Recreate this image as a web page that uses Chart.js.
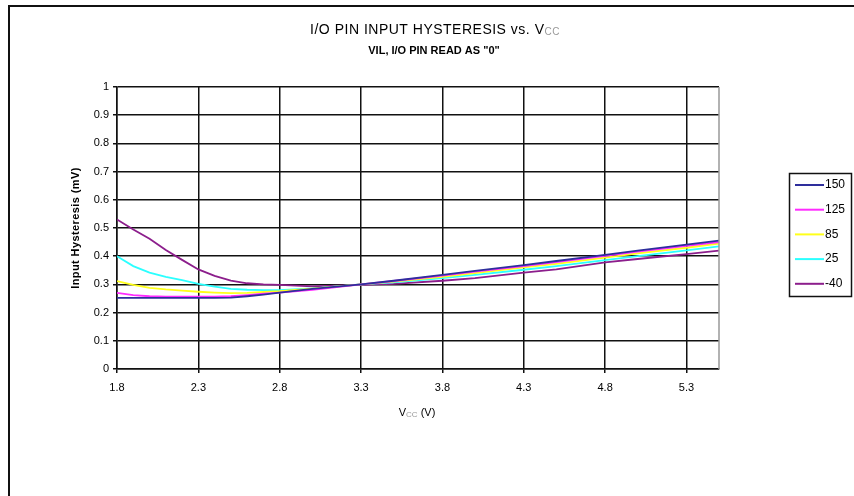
<!DOCTYPE html>
<html>
<head>
<meta charset="utf-8">
<script src="https://cdn.jsdelivr.net/npm/chart.js@4.4.1/dist/chart.umd.min.js"></script>
<style>
  body { margin: 0; background: #fff; }
  #grafico { display: block; }
</style>
</head>
<body>
<canvas id="grafico" width="854" height="496"></canvas>
<script>
// valores (Vcc en V, histeresis)
const vcc = [1.8, 1.9, 2.0, 2.1, 2.2, 2.3, 2.4, 2.5, 2.6, 2.7, 2.8, 3.0, 3.3, 3.5, 3.8, 4.0, 4.3, 4.5, 4.8, 5.0, 5.3, 5.5];
const temps = ['150', '125', '85', '25', '-40'];
const serie150 = [0.252, 0.252, 0.252, 0.252, 0.252, 0.252, 0.252, 0.253, 0.258, 0.264, 0.271, 0.284, 0.300, 0.313, 0.334, 0.348, 0.368, 0.383, 0.405, 0.420, 0.441, 0.455];
const serie125 = [0.270, 0.262, 0.258, 0.257, 0.257, 0.257, 0.257, 0.258, 0.262, 0.267, 0.271, 0.281, 0.300, 0.312, 0.331, 0.345, 0.365, 0.379, 0.401, 0.416, 0.437, 0.450];
const serie85 = [0.312, 0.298, 0.288, 0.282, 0.278, 0.274, 0.271, 0.269, 0.270, 0.273, 0.276, 0.285, 0.300, 0.310, 0.327, 0.340, 0.360, 0.373, 0.395, 0.410, 0.430, 0.445];
const serie25 = [0.400, 0.365, 0.342, 0.327, 0.315, 0.302, 0.292, 0.284, 0.281, 0.280, 0.280, 0.286, 0.300, 0.307, 0.322, 0.334, 0.352, 0.365, 0.386, 0.400, 0.421, 0.435];
const serieM40 = [0.530, 0.495, 0.462, 0.422, 0.387, 0.353, 0.330, 0.313, 0.304, 0.300, 0.298, 0.293, 0.298, 0.302, 0.313, 0.322, 0.342, 0.353, 0.378, 0.390, 0.407, 0.420];
const xTicks = [1.8, 2.3, 2.8, 3.3, 3.8, 4.3, 4.8, 5.3];
const yTicks = [0, 0.1, 0.2, 0.3, 0.4, 0.5, 0.6, 0.7, 0.8, 0.9, 1];

const colores = ['#2e2e9c', '#ff2bff', '#ffff1a', '#2bffff', '#8c1e8c'];
const series = [serie150, serie125, serie85, serie25, serieM40];
const fuente = '"Liberation Sans", Arial, sans-serif';

// texto con subindice (V + cc), centrado en x
function textoSub(ctx, partes, x, y, size, espacio) {
    ctx.letterSpacing = (espacio || 0) + 'px';
    let ancho = 0;
    partes.forEach(p => {
        ctx.font = (p.sub ? Math.round(size * 0.7) : size) + 'px ' + fuente;
        ancho += ctx.measureText(p.t).width;
    });
    let cx = x - ancho / 2;
    partes.forEach(p => {
        ctx.font = (p.sub ? Math.round(size * 0.7) : size) + 'px ' + fuente;
        ctx.fillStyle = p.sub ? '#999' : '#000';
        ctx.fillText(p.t, cx, y + (p.sub ? 2 : 0));
        cx += ctx.measureText(p.t).width;
    });
    ctx.letterSpacing = '0px';
}

const decorado = {
    id: 'decorado',
    beforeDraw(chart) {
        const ctx = chart.ctx;
        ctx.save();
        ctx.fillStyle = '#fff';
        ctx.fillRect(0, 0, chart.width, chart.height);
        // marco exterior
        ctx.strokeStyle = '#111';
        ctx.lineWidth = 2;
        ctx.beginPath();
        ctx.moveTo(9, 500);
        ctx.lineTo(9, 6);
        ctx.lineTo(860, 6);
        ctx.stroke();
        ctx.restore();
    },
    afterDraw(chart) {
        const ctx = chart.ctx;
        const a = chart.chartArea;
        ctx.save();
        // borde derecho del area
        ctx.strokeStyle = '#999';
        ctx.lineWidth = 1.5;
        ctx.beginPath();
        ctx.moveTo(a.right, a.top);
        ctx.lineTo(a.right, a.bottom);
        ctx.stroke();

        ctx.textBaseline = 'middle';
        ctx.textAlign = 'left';
        textoSub(ctx, [{t: 'I/O PIN INPUT HYSTERESIS vs. V'}, {t: 'CC', sub: true}], 435, 30, 14, 0.5);
        ctx.font = 'bold 11px ' + fuente;
        ctx.fillStyle = '#000';
        ctx.textAlign = 'center';
        ctx.fillText('VIL, I/O PIN READ AS "0"', 434, 51);
        ctx.textAlign = 'left';
        textoSub(ctx, [{t: 'V'}, {t: 'CC', sub: true}, {t: ' (V)'}], 417, 413, 11);

        // titulo eje y
        ctx.save();
        ctx.translate(76, (a.top + a.bottom) / 2);
        ctx.rotate(-Math.PI / 2);
        ctx.textAlign = 'center';
        ctx.font = 'bold 11px ' + fuente;
        ctx.letterSpacing = '0.4px';
        ctx.fillStyle = '#000';
        ctx.fillText('Input Hysteresis (mV)', 0, 0);
        ctx.restore();

        // leyenda
        ctx.strokeStyle = '#111';
        ctx.lineWidth = 1.5;
        ctx.strokeRect(789.5, 173.5, 62, 123);
        ctx.font = '12px ' + fuente;
        ctx.textAlign = 'left';
        chart.data.datasets.forEach((ds, i) => {
            const y = 185 + i * 24.7;
            ctx.strokeStyle = ds.borderColor;
            ctx.lineWidth = 2;
            ctx.beginPath();
            ctx.moveTo(795, y);
            ctx.lineTo(824, y);
            ctx.stroke();
            ctx.fillStyle = '#000';
            ctx.fillText(ds.label, 825, y);
        });
        ctx.restore();
    }
};

const ctx = document.getElementById('grafico').getContext('2d');
new Chart(ctx, {
    type: 'line',
    data: {
        datasets: temps.map((t, i) => ({
            label: t,
            data: vcc.map((x, j) => ({ x: x, y: series[i][j] })),
            borderColor: colores[i],
            backgroundColor: colores[i],
            borderWidth: 1.8,
            pointRadius: 0,
            tension: 0,
            fill: false
        }))
    },
    options: {
        responsive: false,
        animation: false,
        layout: { padding: { left: 0, top: 87, right: 135, bottom: 0 } },
        plugins: {
            legend: { display: false },
            tooltip: { enabled: false }
        },
        scales: {
            x: {
                type: 'linear',
                min: 1.8,
                max: 5.5,
                afterBuildTicks: axis => { axis.ticks = xTicks.map(v => ({ value: v })); },
                afterFit: axis => { axis.height = 496 - 369; },
                grid: { color: '#111', lineWidth: 1.5, tickLength: 4, tickColor: '#111' },
                border: { color: '#111', width: 1.5 },
                ticks: {
                    color: '#000',
                    font: { family: fuente, size: 11 },
                    padding: 8,
                    maxRotation: 0,
                    callback: v => v.toFixed(1)
                }
            },
            y: {
                min: 0,
                max: 1,
                afterBuildTicks: axis => { axis.ticks = yTicks.map(v => ({ value: v })); },
                afterFit: axis => { axis.width = 117; },
                grid: { color: '#111', lineWidth: 1.5, tickLength: 4, tickColor: '#111' },
                border: { color: '#111', width: 1.5 },
                ticks: {
                    color: '#000',
                    font: { family: fuente, size: 11 },
                    padding: 4,
                    callback: v => (v === 0 || v === 1) ? String(v) : v.toFixed(1)
                }
            }
        }
    },
    plugins: [decorado]
});
</script>
</body>
</html>
